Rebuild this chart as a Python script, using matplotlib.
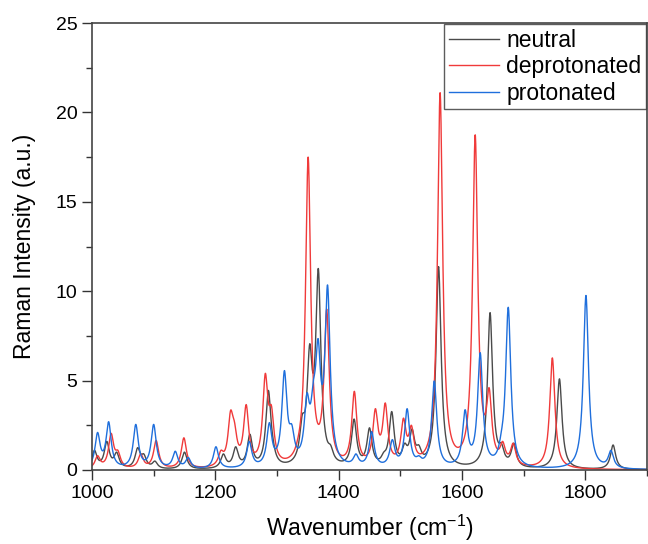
import matplotlib
matplotlib.use("Agg")
import matplotlib.pyplot as plt
import numpy as np
from matplotlib.ticker import MultipleLocator

plt.rcParams["font.family"] = ["Liberation Sans", "DejaVu Sans"]

# peak positions (cm-1) and apparent peak heights
neutral_pos = [1004, 1024, 1040, 1074, 1084, 1102, 1150, 1213, 1233, 1256, 1286,
               1293, 1341, 1353, 1367, 1387, 1425, 1450, 1473, 1486, 1507, 1519,
               1530, 1562, 1645.5, 1664, 1684, 1758, 1845]
neutral_int = [1.1, 1.6, 1.0, 1.25, 0.9, 0.5, 1.0, 0.9, 1.3, 2.0, 4.45,
               1.9, 3.1, 7.05, 11.27, 1.4, 2.85, 2.36, 1.0, 3.27, 1.5, 2.3,
               1.4, 11.37, 8.8, 1.5, 1.5, 5.1, 1.4]

deprot_pos = [1009, 1031, 1042, 1079, 1104, 1149, 1209, 1224.7, 1231, 1250, 1281,
              1291, 1334, 1350.5, 1380.6, 1425.4, 1459.5, 1475.6, 1505, 1518,
              1547, 1564.5, 1621.4, 1644, 1666, 1683, 1734, 1746.5]
deprot_int = [0.8, 2.05, 1.1, 0.9, 1.65, 1.8, 1.1, 3.33, 2.7, 3.66, 5.4,
              3.6, 1.8, 17.5, 9.0, 4.4, 3.43, 3.75, 2.9, 2.5,
              1.2, 21.1, 18.75, 4.6, 1.6, 1.5, 0.9, 6.27]

prot_pos = [1009, 1027, 1071, 1100, 1135, 1156, 1201, 1255, 1287.6, 1312, 1324,
            1348.5, 1359, 1366.6, 1382, 1428, 1453.5, 1487, 1511, 1530, 1555,
            1605, 1629.5, 1664, 1675, 1801, 1841.5]
prot_int = [2.1, 2.7, 2.55, 2.55, 1.05, 0.7, 1.3, 1.6, 2.65, 5.56, 2.55,
            4.3, 5.0, 7.35, 10.35, 0.9, 2.15, 1.7, 3.43, 0.8, 4.98,
            3.37, 6.56, 2.2, 9.1, 9.76, 1.1]

fwhm = 10.0
wn = np.linspace(1000, 1900, 3601)


def lorentz(x, x0):
    g = fwhm / 2
    return g**2 / ((x - x0) ** 2 + g**2)


def spectrum(pos, heights):
    pos = np.asarray(pos, float)
    h = np.asarray(heights, float)
    m = lorentz(pos[:, None], pos[None, :])
    amp = h.copy()
    # scale amplitudes so the summed curve reaches the read heights
    for _ in range(300):
        amp *= h / (m @ amp)
    return (amp[None, :] * lorentz(wn[:, None], pos[None, :])).sum(axis=1)


fig = plt.figure(figsize=(6.48, 5.44), dpi=100)
ax = fig.add_axes([92 / 648, 1 - 470 / 544, 555 / 648, (470 - 23) / 544])

ax.plot(wn, spectrum(neutral_pos, neutral_int), color="#4a4a4a", lw=1.0, label="neutral")
ax.plot(wn, spectrum(deprot_pos, deprot_int), color="#f03a3a", lw=1.0, label="deprotonated")
ax.plot(wn, spectrum(prot_pos, prot_int), color="#1f6fdc", lw=1.0, label="protonated")

ax.set_xlim(1000, 1900)
ax.set_ylim(0, 25)
ax.xaxis.set_major_locator(MultipleLocator(200))
ax.xaxis.set_minor_locator(MultipleLocator(100))
ax.yaxis.set_major_locator(MultipleLocator(5))
ax.yaxis.set_minor_locator(MultipleLocator(2.5))
ax.tick_params(which="both", direction="out", labelsize=14, color="#333333")
ax.tick_params(which="major", length=7, width=1)
ax.tick_params(which="minor", length=4, width=1)
for s in ax.spines.values():
    s.set_color("#444444")
    s.set_linewidth(1.2)

ax.set_xlabel("Wavenumber (cm$^{\\mathregular{-1}}$)", fontsize=16.5, labelpad=8)
ax.set_ylabel("Raman Intensity (a.u.)", fontsize=16.5, labelpad=14)

leg = ax.legend(loc="upper right", fontsize=16.5, frameon=True, fancybox=False,
                borderaxespad=0.05, handlelength=2.2, handletextpad=0.3,
                labelspacing=0.15, borderpad=0.2)
leg.get_frame().set_edgecolor("#333333")
leg.get_frame().set_linewidth(1.0)

fig.savefig("out.png", dpi=100)
